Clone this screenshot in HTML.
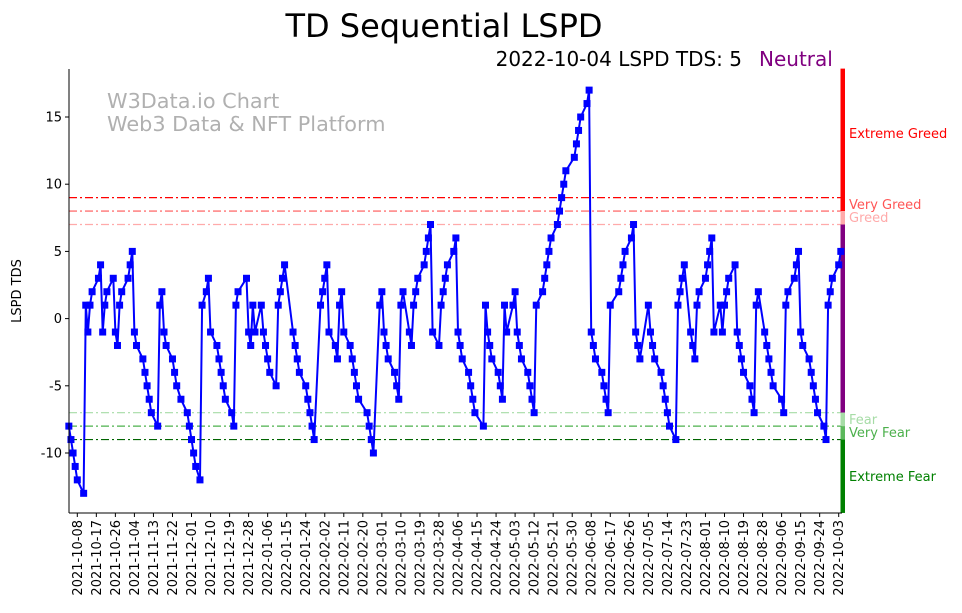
<!DOCTYPE html>
<html><head><meta charset="utf-8"><style>
html,body{margin:0;padding:0;background:#fff;}
svg{display:block;font-family:"DejaVu Sans","Liberation Sans",sans-serif;}
</style></head><body>
<svg id="chart" width="962" height="613" viewBox="0 0 962 613" xmlns="http://www.w3.org/2000/svg">
<text x="444" y="37" font-size="32" text-anchor="middle" fill="#000">TD Sequential LSPD</text>
<text x="742" y="66" font-size="20" text-anchor="end" fill="#000">2022-10-04 LSPD TDS: 5</text>
<text x="759" y="66" font-size="20" fill="#800080">Neutral</text>
<text x="107" y="108" font-size="20.8" fill="#b0b0b0">W3Data.io Chart</text>
<text x="107" y="131" font-size="20.8" fill="#b0b0b0">Web3 Data &amp; NFT Platform</text>
<text transform="translate(21,291) rotate(-90)" font-size="13" text-anchor="middle" fill="#000">LSPD TDS</text>
<g id="zones"></g><g id="series"></g><g id="axes"></g>
</svg>
<script>
const dayOffsets=[-4,-3,-2,-1,0,3,4,5,6,7,10,11,12,13,14,17,18,19,20,21,24,25,26,27,28,31,32,33,34,35,38,39,40,41,42,45,46,47,49,52,53,54,55,56,58,59,61,62,63,66,67,68,69,70,73,74,75,76,80,81,82,83,84,87,88,89,90,91,94,95,96,97,98,102,103,104,105,108,109,110,111,112,115,116,117,118,119,122,123,124,125,126,129,130,131,132,133,137,138,139,140,143,144,145,146,147,150,151,152,153,154,157,158,159,160,161,164,165,166,167,168,171,172,173,174,175,178,179,180,181,182,185,186,187,188,192,193,194,195,196,199,200,201,202,203,206,207,208,209,210,213,214,215,216,217,220,221,222,223,224,227,228,229,230,231,235,236,237,238,241,242,243,244,245,248,249,250,251,252,256,257,258,259,262,263,264,265,266,270,271,272,273,276,277,278,279,280,283,284,285,286,287,290,291,292,293,294,297,298,299,300,301,304,305,306,307,308,311,312,313,314,315,318,319,320,321,322,325,326,327,328,329,333,334,335,336,339,340,341,342,343,346,347,348,349,350,353,354,355,356,357,360,361];
const tdsValues=[-8,-9,-10,-11,-12,-13,1,-1,1,2,3,4,-1,1,2,3,-1,-2,1,2,3,4,5,-1,-2,-3,-4,-5,-6,-7,-8,1,2,-1,-2,-3,-4,-5,-6,-7,-8,-9,-10,-11,-12,1,2,3,-1,-2,-3,-4,-5,-6,-7,-8,1,2,3,-1,-2,1,-1,1,-1,-2,-3,-4,-5,1,2,3,4,-1,-2,-3,-4,-5,-6,-7,-8,-9,1,2,3,4,-1,-2,-3,1,2,-1,-2,-3,-4,-5,-6,-7,-8,-9,-10,1,2,-1,-2,-3,-4,-5,-6,1,2,-1,-2,1,2,3,4,5,6,7,-1,-2,1,2,3,4,5,6,-1,-2,-3,-4,-5,-6,-7,-8,1,-1,-2,-3,-4,-5,-6,1,-1,1,2,-1,-2,-3,-4,-5,-6,-7,1,2,3,4,5,6,7,8,9,10,11,12,13,14,15,16,17,-1,-2,-3,-4,-5,-6,-7,1,2,3,4,5,6,7,-1,-2,-3,1,-1,-2,-3,-4,-5,-6,-7,-8,-9,1,2,3,4,-1,-2,-3,1,2,3,4,5,6,-1,1,-1,1,2,3,4,-1,-2,-3,-4,-5,-6,-7,1,2,-1,-2,-3,-4,-5,-6,-7,1,2,3,4,5,-1,-2,-3,-4,-5,-6,-7,-8,-9,1,2,3,4,5];
const yTicks=[15,10,5,0,-5,-10];
const zoneLevels=[9,8,7,-7,-8,-9];
const zoneColors=["#ff0000","#ff5555","#ffaaaa","#a6dca6","#4cb04c","#006400"];
const startDate=new Date(Date.UTC(2021,9,8));
const NS="http://www.w3.org/2000/svg";
const L=69,R=842,T=69,B=513;
function xs(d){return 77.3+d*2.115;}
function ys(v){return 318.6-v*13.44;}
function mk(tag,attrs,parent,txt){const e=document.createElementNS(NS,tag);for(const k in attrs)e.setAttribute(k,attrs[k]);if(txt!==undefined)e.textContent=txt;parent.appendChild(e);return e;}
const zones=document.getElementById('zones'),series=document.getElementById('series'),axes=document.getElementById('axes');
zoneLevels.forEach((lv,i)=>{
  const ln=mk('line',{x1:L,x2:R,y1:ys(lv),y2:ys(lv),stroke:zoneColors[i],'stroke-width':1.2,'stroke-dasharray':'8,3,2,3'},zones);
  
  
});
const bars=[[18.6,8,"#ff0000"],[8,7,"#ffaaaa"],[7,-7,"#800080"],[-7,-8,"#a6dca6"],[-8,-9,"#5cb85c"],[-9,-14.46,"#008000"]];
bars.forEach(b=>{
  const r=mk('rect',{x:840.5,y:ys(b[0]),width:4.5,height:ys(b[1])-ys(b[0]),fill:b[2]},zones);
  
  
});
const labels=[["Extreme Greed",138,"#ff0000"],["Very Greed",209,"#ff5555"],["Greed",222,"#ffaaaa"],["Fear",424,"#a6dca6"],["Very Fear",437,"#4cb04c"],["Extreme Fear",481,"#008000"]];
labels.forEach(l=>{
  const t=mk('text',{x:849,y:l[1],'font-size':13,fill:l[2]},zones,l[0]);
  
  
});
let pts=dayOffsets.map((d,i)=>xs(d).toFixed(1)+','+ys(tdsValues[i]).toFixed(1)).join(' ');
const pl=mk('polyline',{points:pts,fill:'none',stroke:'#0000ff','stroke-width':2},series);


dayOffsets.forEach((d,i)=>{
  const r=mk('rect',{x:xs(d)-3.5,y:ys(tdsValues[i])-3.5,width:7,height:7,fill:'#0000ff'},series);
  
  
});
const ls=mk('line',{x1:L,x2:L,y1:T,y2:B,stroke:'#000','stroke-width':1},axes);


const bs=mk('line',{x1:L,x2:R,y1:B,y2:B,stroke:'#000','stroke-width':1},axes);


yTicks.forEach(v=>{
  mk('line',{x1:L-4,x2:L,y1:ys(v),y2:ys(v),stroke:'#000'},axes);
  const t=mk('text',{x:L-7,y:ys(v)+4.5,'font-size':13,'text-anchor':'end'},axes,String(v));
  
  
});
for(let d=0;d<=360;d+=9){
  const x=xs(d);
  mk('line',{x1:x,x2:x,y1:B,y2:B+4,stroke:'#000'},axes);
  const dt=new Date(startDate.getTime()+d*86400000);
  const s=dt.toISOString().slice(0,10);
  const t=mk('text',{transform:`translate(${(x+4.5).toFixed(1)},${B+7}) rotate(-90)`,'font-size':13,'text-anchor':'end'},axes,s);
  
  
}
</script>
</body></html>
